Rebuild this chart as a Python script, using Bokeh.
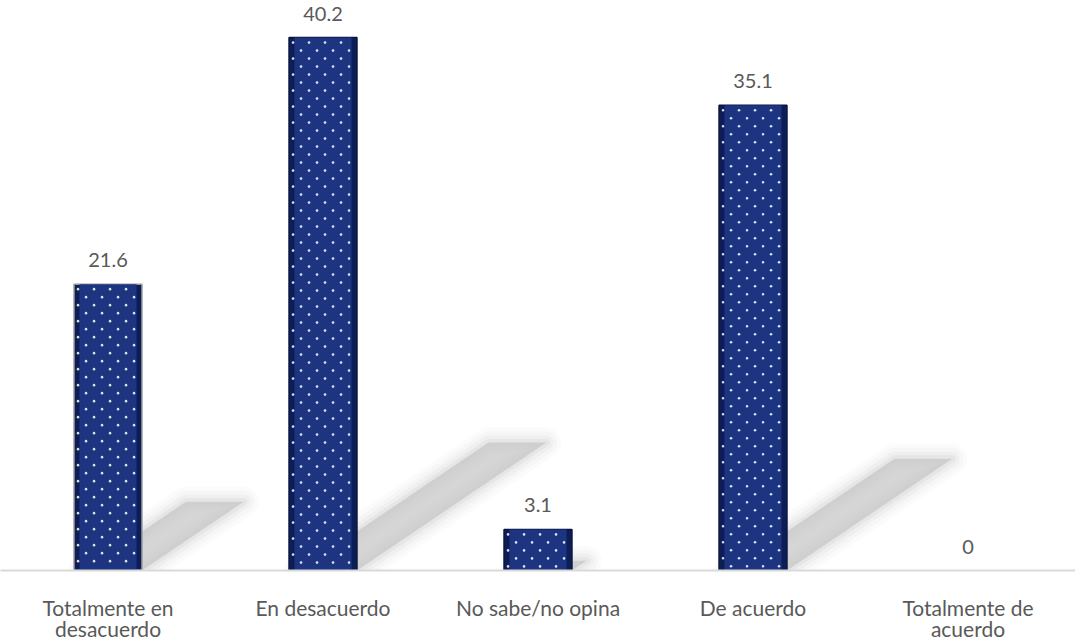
import numpy as np
from bokeh.plotting import figure
from bokeh.models import Range1d, FixedTicker, ColumnDataSource
from bokeh.embed import file_html
from bokeh.resources import INLINE
from bokeh.core.properties import value

categories = ["Totalmente en\ndesacuerdo", "En desacuerdo", "No sabe/no opina", "De acuerdo", "Totalmente de\nacuerdo"]
values = [21.6, 40.2, 3.1, 35.1, 0]
labels = ["21.6", "40.2", "3.1", "35.1", "0"]

xs = list(range(len(categories)))
BAR_W = 0.316
FONT = "Lato"
TXT = "#595959"
Y_END = 43.0

p = figure(frame_width=1075, frame_height=570, output_backend="svg", toolbar_location=None,
           x_range=Range1d(-0.5, 4.5), y_range=Range1d(0, Y_END),
           min_border_left=0, min_border_right=0, min_border_top=0, min_border_bottom=71)
p.outline_line_color = None
p.grid.visible = False
p.yaxis.visible = False
p.background_fill_color = "white"
p.border_fill_color = "white"

# soft shadows (derived from values)
sx, sy = [], []
for x, v in zip(xs, values):
    if v <= 0:
        continue
    dx = 0.0219 * v
    dy = 0.24 * v
    l, r = x - BAR_W * 0.35, x + BAR_W / 2
    sx.append([l, r, r + dx, l + dx])
    sy.append([0, 0, dy, dy])
for lw, a in [(30, 0.05), (22, 0.07), (14, 0.1), (7, 0.15)]:
    p.patches(sx, sy, fill_color=None, line_color="#b5b5b5", line_alpha=a, line_width=lw, line_join="round")
p.patches(sx, sy, fill_color="#c4c4c4", fill_alpha=0.7, line_color=None)

bx = [x for x, v in zip(xs, values) if v > 0]
bv = [v for v in values if v > 0]
blc = ["#9a9a9a" if i == 0 else "#0a1640" for i in range(len(bx))]
bsrc = ColumnDataSource(dict(x=bx, top=bv, lc=blc))
# outer darker bevel
p.vbar(x="x", top="top", bottom=0, width=BAR_W, source=bsrc, fill_color="#0d1d55", line_color="lc", line_width=1.5)
# inner lighter face
p.vbar(x="x", top="top", bottom=0, width=BAR_W * 0.84, source=bsrc, fill_color="#1d3580", line_color=None)

# staggered white dot texture inside each bar (derived from bar geometry)
px_x = 1.0 / 215.0          # one pixel in x data units
px_y = Y_END / 570.0        # one pixel in y data units
dxs, dys = [], []
for x, v in zip(bx, bv):
    left = x - BAR_W / 2 + 4 * px_x
    right = x + BAR_W / 2 - 3 * px_x
    yy = v - 5 * px_y
    row = 0
    while yy > 2 * px_y:
        xx = left + (8 * px_x if row % 2 else 0)
        while xx < right:
            dxs.append(xx)
            dys.append(yy)
            xx += 16 * px_x
        yy -= 8 * px_y
        row += 1
p.scatter(dxs, dys, marker="circle", size=2.6, fill_color="white", fill_alpha=0.85, line_color=None)

lsrc = ColumnDataSource(dict(x=xs, top=values, lab=labels))
p.text(x="x", y="top", text="lab", source=lsrc, text_align="center", text_baseline="middle",
       y_offset=-24, text_font=value(FONT), text_font_size="20px", text_color=TXT)

p.xaxis.ticker = FixedTicker(ticks=xs)
p.xaxis.major_label_overrides = {i: c for i, c in zip(xs, categories)}
p.xaxis.major_tick_line_color = None
p.xaxis.minor_tick_line_color = None
p.xaxis.axis_line_color = "#d9d9d9"
p.xaxis.axis_line_width = 2
p.xaxis.major_label_text_font = FONT
p.xaxis.major_label_text_font_size = "21px"
p.xaxis.major_label_text_line_height = 0.85
p.xaxis.major_label_text_color = TXT
p.xaxis.major_label_standoff = 18

open("out.html", "w").write(file_html(p, INLINE))
